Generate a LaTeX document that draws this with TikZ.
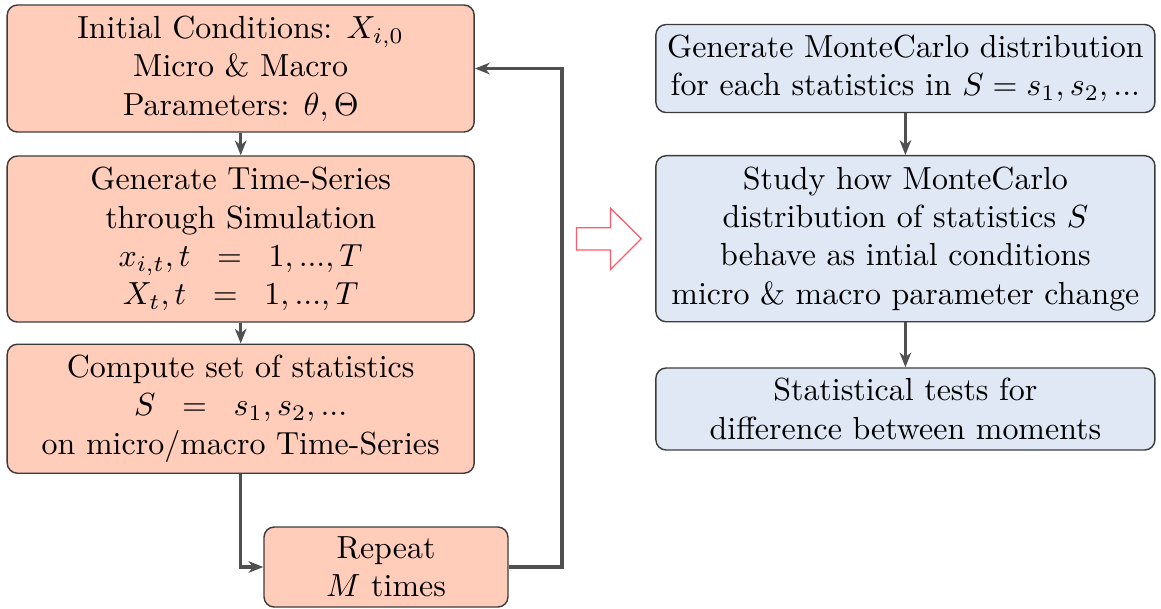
\documentclass[tikz,border=0pt]{standalone}
\usepackage{amsmath}
\usetikzlibrary{arrows.meta,calc}
\definecolor{peach}{RGB}{255,205,186}
\definecolor{lblue}{RGB}{224,232,246}
\definecolor{edgegray}{RGB}{60,60,60}
\definecolor{arrgray}{RGB}{80,80,80}
\definecolor{redarrow}{RGB}{255,90,105}
\tikzset{
  box/.style={draw=edgegray, line width=0.45pt, rounded corners=3.2pt, align=center, inner sep=0pt, font=\normalsize},
  leftbox/.style={box, fill=peach},
  rightbox/.style={box, fill=lblue},
  conn/.style={draw=arrgray, line width=1pt, -{Stealth[length=4.6pt,width=3.6pt,inset=1.4pt]}},
  hollowarrow/.style={draw=redarrow, line width=0.4pt}
}
\begin{document}
\begin{tikzpicture}[x=0.313pt,y=-0.313pt]
\useasboundingbox (0,0) rectangle (1161,608);
% left column
\node[leftbox, minimum width=467*0.313pt, minimum height=127*0.313pt] (b1) at (240.7,68.5)
  {Initial Conditions: $X_{i,0}$\\ Micro \& Macro\\ Parameters: $\theta,\Theta$};
\node[leftbox, minimum width=467*0.313pt, minimum height=166*0.313pt] (b2) at (240.7,239)
  {Generate Time-Series\\ through Simulation\\ $x_{i,t},t\;\;=\;\;1,...,T$\\ $X_{t},t\;\;=\;\;1,...,T$};
\node[leftbox, minimum width=467*0.313pt, minimum height=129*0.313pt] (b3) at (240.7,408.7)
  {Compute set of statistics\\ $S\;\;=\;\;s_1,s_2,...$\\ on micro/macro Time-Series};
\node[leftbox, minimum width=244*0.313pt, minimum height=80*0.313pt] (rep) at (386,567)
  {Repeat\\ $M$ times};
% right column
\node[rightbox, minimum width=499*0.313pt, minimum height=88*0.313pt] (r1) at (905.4,68.5)
  {Generate MonteCarlo distribution\\ for each statistics in $S=s_1,s_2,...$};
\node[rightbox, minimum width=499*0.313pt, minimum height=166*0.313pt] (r2) at (905.4,238.7)
  {Study how MonteCarlo\\ distribution of statistics $S$\\ behave as intial conditions\\ micro \& macro parameter change};
\node[rightbox, minimum width=499*0.313pt, minimum height=82*0.313pt] (r3) at (905.4,409)
  {Statistical tests for\\ difference between moments};
% connectors
\coordinate (loopx) at (562,0);
\draw[conn] (b1.south) -- (b2.north);
\draw[conn] (b2.south) -- (b3.north);
\draw[conn] (b3.south) |- (rep.west);
\draw[conn] (rep.east) -- (rep.east -| loopx) |- (b1.east);
\draw[conn] (r1.south) -- (r2.north);
\draw[conn] (r2.south) -- (r3.north);
% hollow arrow
\draw[hollowarrow] (576.5,227.7) -- (610.6,227.7) -- (610.6,208.3) -- (641.3,238.7)
  -- (610.6,269.3) -- (610.6,250) -- (576.5,250) -- cycle;
\end{tikzpicture}
\end{document}
